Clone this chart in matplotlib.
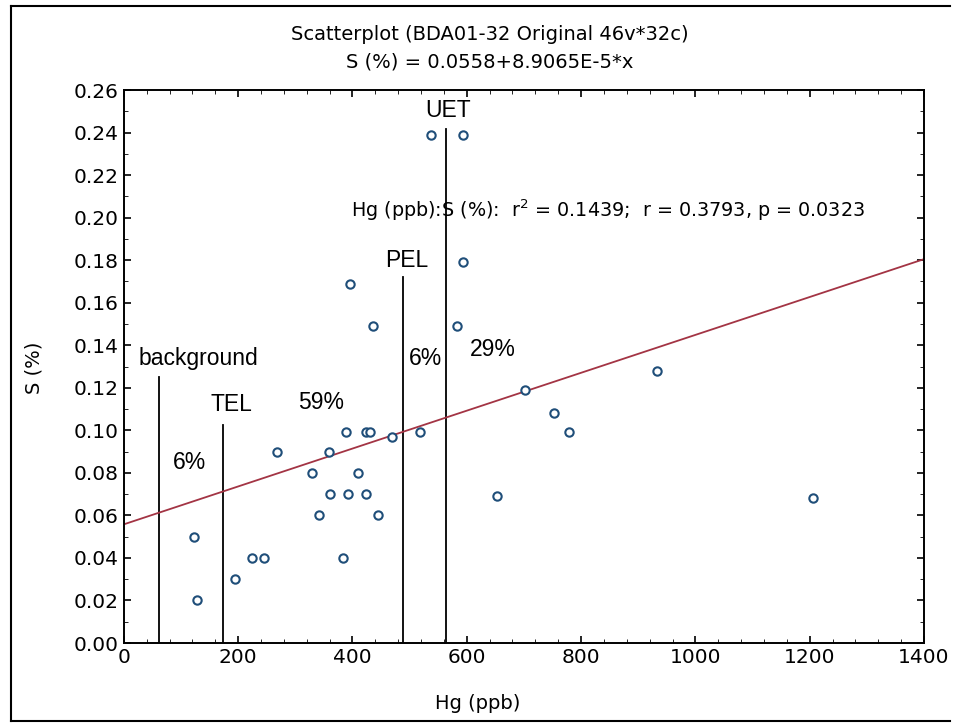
import numpy as np
import matplotlib.pyplot as plt
from matplotlib.ticker import AutoMinorLocator, FormatStrFormatter
from matplotlib.lines import Line2D

# Hg (ppb) and S (%)
hg = [123, 128, 194, 224, 245, 268, 329, 342, 359, 361, 384, 388, 393, 410,
      423, 423, 430, 445, 470, 519, 653, 702, 753, 779, 1206,
      537, 594, 395, 436, 594, 583, 932]
s = [0.050, 0.020, 0.030, 0.040, 0.040, 0.090, 0.080, 0.060, 0.090, 0.070,
     0.040, 0.099, 0.070, 0.080, 0.070, 0.099, 0.099, 0.060, 0.097, 0.099,
     0.069, 0.119, 0.108, 0.099, 0.068,
     0.239, 0.239, 0.169, 0.149, 0.179, 0.149, 0.128]

# regression from the subtitle
intercept = 0.0558
slope = 8.9065e-5

# threshold lines: name, x, top
thr_names = ['background', 'TEL', 'PEL', 'UET']
thr_x = [61, 174, 489, 564]
thr_top = [0.125, 0.1025, 0.172, 0.2415]

# percent labels between thresholds
pct_labels = ['6%', '59%', '6%', '29%']
pct_x = [115, 345, 527, 645]
pct_y = [0.085, 0.113, 0.134, 0.138]

fig = plt.figure(figsize=(9.6, 7.26), dpi=100)
ax = fig.add_axes([0.129, 0.1143, 0.8335, 0.7617])

xx = np.array([0, 1400])
ax.plot(xx, intercept + slope * xx, color='#a33444', lw=1.3, zorder=2)

ax.scatter(hg, s, s=36, facecolors='white', edgecolors='#1f4e79',
           linewidths=1.5, zorder=3)

for name, x, top in zip(thr_names, thr_x, thr_top):
    ax.plot([x, x], [0, top], color='black', lw=1.3, zorder=1)

lab = dict(fontsize=16.5, family='Liberation Sans')
ax.text(26, 0.134, 'background', ha='left', va='center', **lab)
ax.text(189, 0.112, 'TEL', ha='center', va='center', **lab)
ax.text(495, 0.180, 'PEL', ha='center', va='center', **lab)
ax.text(567, 0.2505, 'UET', ha='center', va='center', **lab)
for t, x, y in zip(pct_labels, pct_x, pct_y):
    ax.text(x, y, t, ha='center', va='center', **lab)

ax.text(398, 0.2035, r'Hg (ppb):S (%):  r$^2$ = 0.1439;  r = 0.3793, p = 0.0323',
        fontsize=13.8, ha='left', va='center', family='DejaVu Sans')

ax.set_xlim(0, 1400)
ax.set_ylim(0, 0.26)
ax.set_xticks(np.arange(0, 1401, 200))
ax.set_yticks(np.arange(0, 0.2601, 0.02))
ax.yaxis.set_major_formatter(FormatStrFormatter('%.2f'))
ax.xaxis.set_minor_locator(AutoMinorLocator(5))
ax.yaxis.set_minor_locator(AutoMinorLocator(2))
ax.tick_params(which='both', direction='in', top=True, right=True, labelsize=14.5)
ax.tick_params(which='major', length=5, width=1.2)
ax.tick_params(which='minor', length=3)
for sp in ax.spines.values():
    sp.set_linewidth(1.4)

ax.set_xlabel('Hg (ppb)', fontsize=14)
ax.set_ylabel('S (%)', fontsize=14)
ax.xaxis.set_label_coords(0.4425, -0.092)
ax.yaxis.set_label_coords(-0.1, 0.497)

fig.text(0.510, 0.952, 'Scatterplot (BDA01-32 Original 46v*32c)', ha='center',
         va='center', fontsize=14, family='DejaVu Sans Condensed')
fig.text(0.510, 0.915, 'S (%) = 0.0558+8.9065E-5*x', ha='center',
         va='center', fontsize=14, family='DejaVu Sans Condensed')

# scanned page frame (left, top, bottom)
for xs, ys in [([0.011, 0.011], [0.007, 0.992]),
               ([0.011, 0.99], [0.992, 0.992]),
               ([0.011, 0.99], [0.007, 0.007])]:
    fig.add_artist(Line2D(xs, ys, transform=fig.transFigure, color='black', lw=1.5))

fig.savefig('out.png', dpi=100)
